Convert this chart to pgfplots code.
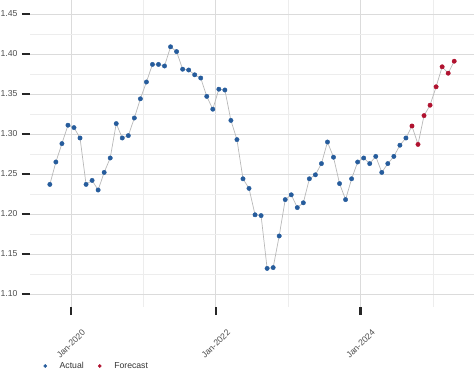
\documentclass[border=0pt]{standalone}
\usepackage{pgfplots}
\pgfplotsset{compat=1.18}
\usepackage{fontspec}
\setmainfont{Liberation Sans}
\definecolor{actc}{HTML}{265C9C}
\definecolor{fcc}{HTML}{B0122F}
\definecolor{linec}{HTML}{B8B8B8}
\definecolor{txt}{HTML}{4D4D4D}
\begin{document}
\begin{tikzpicture}
\useasboundingbox (-30bp,-83bp) rectangle (444bp,307bp);
\begin{axis}[
  at={(0,0)}, anchor=south west,
  scale only axis, width=444bp, height=307bp,
  xmin=-6.79, xmax=66.78, ymin=1.08375, ymax=1.4675,
  axis line style={draw=none},
  xtick={0,24,48}, xticklabels={Jan-2020,Jan-2022,Jan-2024},
  minor xtick={12,36,60},
  ytick={1.10,1.15,1.20,1.25,1.30,1.35,1.40,1.45},
  minor ytick={1.125,1.175,1.225,1.275,1.325,1.375,1.425},
  /pgf/number format/fixed, /pgf/number format/fixed zerofill,
  /pgf/number format/precision=2,
  /pgf/number format/assume math mode=true,
  xtick pos=bottom, ytick pos=left,
  grid=both,
  major grid style={color=black!14, line width=0.8bp},
  minor grid style={color=black!7, line width=0.7bp},
  tick align=outside, major tick length=8bp, minor tick length=0bp,
  tick style={black!85, line width=2.6bp},
  tick label style={font=\fontsize{8.7}{10}\selectfont, text=txt},
  yticklabel style={anchor=east, xshift=-1bp},
  xticklabel style={yshift=-29bp, rotate=45, anchor=center},
  legend style={at={(9bp,-59bp)}, anchor=west, draw=none, fill=none,
    font=\fontsize{8.7}{10}\selectfont, text=black!80, legend columns=2,
    /tikz/every even column/.append style={column sep=11bp}},
  legend image code/.code={\path[draw=none,fill=none] (-3bp,0bp) -- (12.5bp,0bp);\draw[#1, mark size=1.6bp] plot coordinates {(0bp,0bp)};},
  clip=false,
]
\addplot[linec, line width=0.7bp, forget plot] coordinates {
(-3.5,1.237)(-2.5,1.265)(-1.5,1.288)(-0.5,1.311)(0.5,1.308)(1.5,1.295)(2.5,1.237)(3.5,1.242)(4.5,1.230)(5.5,1.252)
(6.5,1.270)(7.5,1.313)(8.5,1.295)(9.5,1.298)(10.5,1.320)(11.5,1.344)(12.5,1.365)(13.5,1.387)(14.5,1.387)(15.5,1.385)
(16.5,1.409)(17.5,1.403)(18.5,1.381)(19.5,1.380)(20.5,1.374)(21.5,1.370)(22.5,1.347)(23.5,1.331)(24.5,1.356)(25.5,1.355)
(26.5,1.317)(27.5,1.293)(28.5,1.244)(29.5,1.232)(30.5,1.199)(31.5,1.198)(32.5,1.132)(33.5,1.133)(34.5,1.1725)(35.5,1.218)
(36.5,1.224)(37.5,1.208)(38.5,1.214)(39.5,1.244)(40.5,1.249)(41.5,1.263)(42.5,1.290)(43.5,1.271)(44.5,1.238)(45.5,1.218)
(46.5,1.244)(47.5,1.265)(48.5,1.270)(49.5,1.263)(50.5,1.272)(51.5,1.252)(52.5,1.263)(53.5,1.272)(54.5,1.286)(55.5,1.295)
(56.5,1.310)(57.5,1.287)(58.5,1.323)(59.5,1.336)(60.5,1.359)(61.5,1.384)(62.5,1.376)(63.5,1.391)
};
\addplot[only marks, mark=*, mark size=2.2bp, mark options={fill=actc, draw=actc}] coordinates {
(-3.5,1.237)(-2.5,1.265)(-1.5,1.288)(-0.5,1.311)(0.5,1.308)(1.5,1.295)(2.5,1.237)(3.5,1.242)(4.5,1.230)(5.5,1.252)
(6.5,1.270)(7.5,1.313)(8.5,1.295)(9.5,1.298)(10.5,1.320)(11.5,1.344)(12.5,1.365)(13.5,1.387)(14.5,1.387)(15.5,1.385)
(16.5,1.409)(17.5,1.403)(18.5,1.381)(19.5,1.380)(20.5,1.374)(21.5,1.370)(22.5,1.347)(23.5,1.331)(24.5,1.356)(25.5,1.355)
(26.5,1.317)(27.5,1.293)(28.5,1.244)(29.5,1.232)(30.5,1.199)(31.5,1.198)(32.5,1.132)(33.5,1.133)(34.5,1.1725)(35.5,1.218)
(36.5,1.224)(37.5,1.208)(38.5,1.214)(39.5,1.244)(40.5,1.249)(41.5,1.263)(42.5,1.290)(43.5,1.271)(44.5,1.238)(45.5,1.218)
(46.5,1.244)(47.5,1.265)(48.5,1.270)(49.5,1.263)(50.5,1.272)(51.5,1.252)(52.5,1.263)(53.5,1.272)(54.5,1.286)(55.5,1.295)
};
\addlegendentry{Actual}
\addplot[only marks, mark=*, mark size=2.2bp, mark options={fill=fcc, draw=fcc}] coordinates {
(56.5,1.310)(57.5,1.287)(58.5,1.323)(59.5,1.336)(60.5,1.359)(61.5,1.384)(62.5,1.376)(63.5,1.391)
};
\addlegendentry{Forecast}
\end{axis}
\end{tikzpicture}
\end{document}
